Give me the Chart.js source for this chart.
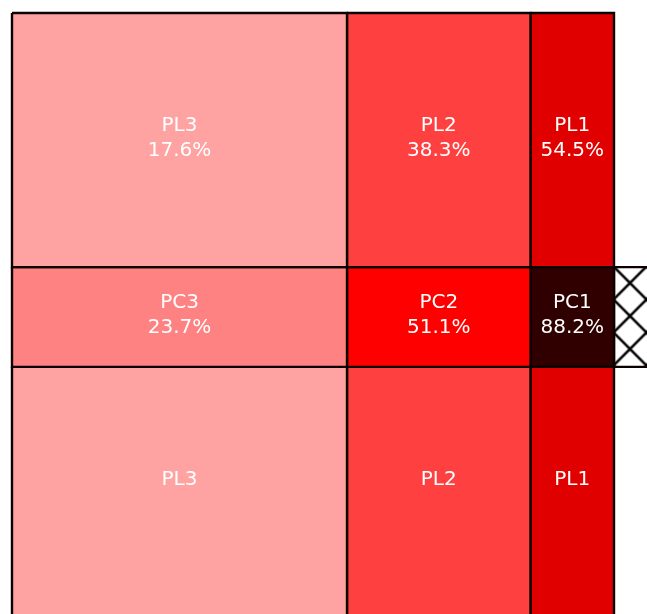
<!DOCTYPE html>
<html>
<head>
<meta charset="utf-8">
<script src="https://cdn.jsdelivr.net/npm/chart.js@4/dist/chart.umd.min.js"></script>
<style>
  html, body { margin: 0; padding: 0; background: #ffffff; }
  #wrap { width: 647px; height: 614px; }
</style>
</head>
<body>
<div id="wrap"><canvas id="c" width="647" height="614"></canvas></div>
<script>
// ---- data ----
const colNames   = ['3', '2', '1'];                 // column order left -> right
const colShares  = [0.5565, 0.3048, 0.1387];        // column widths (share of total)
const rowKinds   = ['PL', 'PC', 'PL'];              // row order top -> bottom
const rowShares  = [0.418, 0.164, 0.418];           // row heights (share of total)
const topPct     = [17.6, 38.3, 54.5];              // PL row percentages
const midPct     = [23.7, 51.1, 88.2];              // PC row percentages
const botPct     = [null, null, null];              // bottom row: no percentage shown
const missingShare = 0.06;                          // hatched (missing) cell in PC row
const cellColors = [
  ['#ffa2a2', '#ff4040', '#e00000'],
  ['#ff8282', '#ff0000', '#300000'],
  ['#ffa2a2', '#ff4040', '#e00000']
];
const rowPct = [topPct, midPct, botPct];

// ---- hatch pattern ----
function makeHatch() {
  const s = 33;
  const pc = document.createElement('canvas');
  pc.width = s; pc.height = s;
  const g = pc.getContext('2d');
  g.fillStyle = '#ffffff';
  g.fillRect(0, 0, s, s);
  g.strokeStyle = '#000000';
  g.lineWidth = 2.6;
  g.lineCap = 'square';
  g.beginPath();
  g.moveTo(-3, -3); g.lineTo(s + 3, s + 3);
  g.moveTo(s + 3, -3); g.lineTo(-3, s + 3);
  g.stroke();
  const p = document.getElementById('c').getContext('2d').createPattern(pc, 'repeat');
  if (p.setTransform) p.setTransform(new DOMMatrix().translate(19.5, 2.5));
  return p;
}
const hatch = makeHatch();

// ---- build cells ----
const cells = [];
let y0 = 0;
rowKinds.forEach((kind, r) => {
  const y1 = y0 + rowShares[r];
  let x0 = 0;
  colNames.forEach((cn, c) => {
    const x1 = x0 + colShares[c];
    cells.push({
      label: kind + cn,
      pct: rowPct[r][c],
      x0, x1, y0, y1,
      color: cellColors[r][c]
    });
    x0 = x1;
  });
  if (kind === 'PC') {
    cells.push({ label: null, pct: null, x0, x1: x0 + missingShare, y0, y1, color: hatch });
  }
  y0 = y1;
});

const datasets = cells.map(cell => ({
  data: [
    { x: cell.x0, y: cell.y0 }, { x: cell.x1, y: cell.y0 },
    { x: cell.x1, y: cell.y1 }, { x: cell.x0, y: cell.y1 },
    { x: cell.x0, y: cell.y0 }
  ],
  showLine: true,
  fill: 'shape',
  backgroundColor: cell.color,
  borderColor: '#0d0000',
  borderWidth: 2.4,
  pointRadius: 0,
  pointHoverRadius: 0,
  tension: 0
}));

const labelPlugin = {
  id: 'cellLabels',
  afterDatasetsDraw(chart) {
    const ctx = chart.ctx;
    const xs = chart.scales.x, ys = chart.scales.y;
    ctx.save();
    ctx.fillStyle = '#ffffff';
    ctx.font = '20px "DejaVu Sans"';
    ctx.textAlign = 'center';
    ctx.textBaseline = 'middle';
    cells.forEach(cell => {
      if (!cell.label) return;
      const cx = (xs.getPixelForValue(cell.x0) + xs.getPixelForValue(cell.x1)) / 2;
      const cy = (ys.getPixelForValue(cell.y0) + ys.getPixelForValue(cell.y1)) / 2;
      ctx.fillText(cell.label, cx, cy - 14);
      if (cell.pct !== null) ctx.fillText(cell.pct.toFixed(1) + '%', cx, cy + 11);
    });
    ctx.restore();
  }
};

new Chart(document.getElementById('c'), {
  type: 'scatter',
  data: { datasets },
  options: {
    responsive: false,
    animation: false,
    layout: { padding: 0 },
    plugins: { legend: { display: false }, tooltip: { enabled: false } },
    events: [],
    scales: {
      x: { type: 'linear', display: false, min: -12 / 602, max: 635 / 602 },
      y: { type: 'linear', display: false, reverse: true, min: -13 / 608, max: 601 / 608 }
    }
  },
  plugins: [labelPlugin]
});
</script>
</body>
</html>
